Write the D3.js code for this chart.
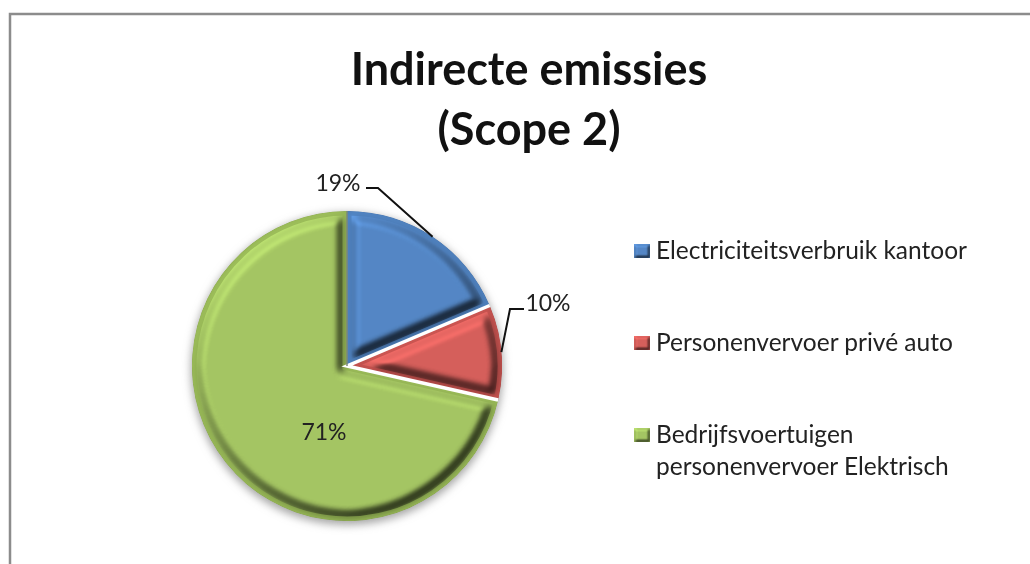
<!DOCTYPE html>
<html>
<head>
<meta charset="utf-8">
<script src="https://cdn.jsdelivr.net/npm/d3@7"></script>
<style>
html, body { margin: 0; background: #fff; }
svg { filter: blur(0.45px); display: block; }
text { font-family: Lato, "Open Sans", sans-serif; fill: #222; }
</style>
</head>
<body>
<svg id="chart" width="1030" height="564"></svg>
<script>
var titleLines = ["Indirecte emissies", "(Scope 2)"];
var categories = ["Electriciteitsverbruik kantoor", "Personenvervoer privé auto", "Bedrijfsvoertuigen|personenvervoer Elektrisch"];
var values = [18.6, 9.9, 71.4];
var percentLabels = ["19%", "10%", "71%"];
var colors = ["#4b7cb6", "#b94c49", "#8fae50"];
var faceColors = ["#5487c6", "#d65f5b", "#a5c663"];

var svg = d3.select("#chart");
var cx = 347, cy = 366, radius = 155;

// frame, only top and left are in the crop
svg.append("path")
  .attr("d", "M10,564V14H1030")
  .attr("fill", "none")
  .attr("stroke", "#8c8c8c")
  .attr("stroke-width", 2.5);

svg.selectAll("text.title")
  .data(titleLines)
  .enter().append("text")
  .attr("class", "title")
  .attr("x", 529)
  .attr("y", function(d, i) { return 85 + i * 60; })
  .attr("text-anchor", "middle")
  .attr("font-size", 45)
  .attr("font-weight", 700)
  .style("fill", "#111")
  .text(function(d) { return d; });

var defs = svg.append("defs");

var shadow = defs.append("filter").attr("id", "shadow")
  .attr("x", "-20%").attr("y", "-20%").attr("width", "140%").attr("height", "140%");
shadow.append("feGaussianBlur").attr("stdDeviation", 4);

// chisel look of the old office charts: ramp starts a few px inside the edge
function makeBevel(id, erode, blur, scale) {
  var f = defs.append("filter").attr("id", id)
    .attr("x", "-5%").attr("y", "-5%").attr("width", "110%").attr("height", "110%")
    .attr("color-interpolation-filters", "sRGB");
  f.append("feMorphology").attr("in", "SourceAlpha").attr("operator", "erode").attr("radius", erode).attr("result", "inner");
  f.append("feGaussianBlur").attr("in", "inner").attr("stdDeviation", blur).attr("result", "blur");
  var light = f.append("feDiffuseLighting")
    .attr("in", "blur").attr("surfaceScale", scale).attr("diffuseConstant", 1)
    .attr("lighting-color", "#fff").attr("result", "light");
  light.append("feDistantLight").attr("azimuth", 235).attr("elevation", 55);
  f.append("feComposite")
    .attr("in", "SourceGraphic").attr("in2", "light")
    .attr("operator", "arithmetic").attr("k1", 0.8).attr("k2", 0.34).attr("result", "lit");
  f.append("feComposite").attr("in", "lit").attr("in2", "SourceAlpha").attr("operator", "in");
}
makeBevel("bevel", 6, 3.5, 7);
makeBevel("bevelSmall", 1, 1, 2);

var pie = d3.pie().sort(null).value(function(d) { return d; });
var arcs = pie(values);
var arc = d3.arc().innerRadius(0).outerRadius(radius);

var g = svg.append("g").attr("transform", "translate(" + cx + "," + cy + ")");

g.append("circle")
  .attr("cy", 3)
  .attr("r", radius + 1)
  .attr("fill", "#a5a5a5")
  .attr("filter", "url(#shadow)");

defs.selectAll("clipPath")
  .data(arcs)
  .enter().append("clipPath")
  .attr("id", function(d, i) { return "clip" + i; })
  .append("path")
  .attr("d", arc);

var slices = g.selectAll("g.slice")
  .data(arcs)
  .enter().append("g")
  .attr("class", "slice");

slices.append("path")
  .attr("d", arc)
  .attr("fill", function(d, i) { return faceColors[i]; })
  .attr("filter", "url(#bevel)");

// darker rim just inside the slice edge
slices.append("path")
  .attr("d", arc)
  .attr("fill", "none")
  .attr("stroke", function(d, i) { return colors[i]; })
  .attr("stroke-width", 9)
  .attr("stroke-opacity", 0.7)
  .attr("clip-path", function(d, i) { return "url(#clip" + i + ")"; });

// white gaps along the two straight sides of the red slice
g.append("path")
  .attr("d", arc(arcs[1]))
  .attr("fill", "none")
  .attr("stroke", "#fff")
  .attr("stroke-width", 3.5)
  .attr("stroke-dasharray", "0," + radius * (arcs[1].endAngle - arcs[1].startAngle) + "," + 2 * radius);

// seam at twelve o'clock
g.append("line")
  .attr("y1", -radius)
  .attr("stroke", "#7d8a78")
  .attr("stroke-width", 1.5);

function outerPoint(d) {
  var a = (d.startAngle + d.endAngle) / 2;
  return [radius * Math.sin(a), -radius * Math.cos(a)];
}

var p0 = outerPoint(arcs[0]), p1 = outerPoint(arcs[1]);
var leader = d3.line();
g.append("path")
  .attr("d", leader([p0, [31, -178], [19, -178]]))
  .attr("fill", "none").attr("stroke", "#111").attr("stroke-width", 2);
g.append("path")
  .attr("d", leader([p1, [163, -57], [177, -57]]))
  .attr("fill", "none").attr("stroke", "#111").attr("stroke-width", 2);

var labelPos = [[-9, -175], [201, -55], [-23, 74]];
g.selectAll("text.pct")
  .data(percentLabels)
  .enter().append("text")
  .attr("class", "pct")
  .attr("x", function(d, i) { return labelPos[i][0]; })
  .attr("y", function(d, i) { return labelPos[i][1]; })
  .attr("text-anchor", "middle")
  .attr("font-size", 23)
  .text(function(d) { return d; });

var legendY = d3.scalePoint().domain(d3.range(categories.length)).range([259, 443]);
var legend = svg.selectAll("g.legend")
  .data(categories)
  .enter().append("g")
  .attr("class", "legend")
  .attr("transform", function(d, i) { return "translate(634," + legendY(i) + ")"; });

legend.append("rect")
  .attr("y", -15)
  .attr("width", 16)
  .attr("height", 14)
  .attr("fill", function(d, i) { return faceColors[i]; })
  .attr("filter", "url(#bevelSmall)");

legend.selectAll("text")
  .data(function(d) { return d.split("|"); })
  .enter().append("text")
  .attr("x", 22)
  .attr("y", function(d, i) { return i * 32; })
  .attr("font-size", 24.5)
  .text(function(d) { return d; });
</script>
</body>
</html>
